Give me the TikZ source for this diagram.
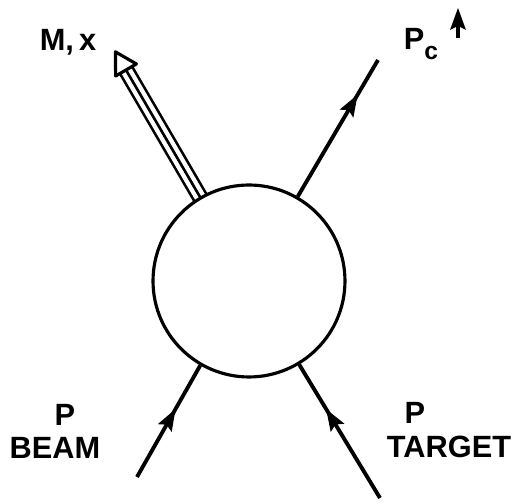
\documentclass[tikz,border=0pt]{standalone}
\usepackage{fontspec}
\newfontfamily\letterfont{Liberation Sans}
\usetikzlibrary{decorations.markings,calc,backgrounds}
\tikzset{
  blob/.style={circle, draw, fill=white, line width=1.8pt, minimum size=3.84cm, inner sep=0pt},
  headmark/.style={postaction={decorate}, decoration={markings,
    mark=at position #1 with {\fill (9,0) -- (-13,8) -- (-9,0) -- (-13,-8) -- cycle;}}},
  fermion/.style={line width=2.2pt, headmark=#1},
  fermion/.default=0.6,
  tripleline/.style={line width=1.5pt, double=white, double distance=6.4pt},
  lettering/.style={font=\letterfont\bfseries\fontsize{17.5}{21}\selectfont, inner sep=0pt},
}

\begin{document}
\begin{tikzpicture}[x=0.02cm, y=-0.02cm]
  \useasboundingbox (0,0) rectangle (515,502);
  \node[blob] (blob) at (249,281) {};
  \coordinate (beam) at (137,477); \coordinate (target) at (380,498);
  \coordinate (pc) at (378,60); \coordinate (mbase) at (126,70);
  % Incoming and outgoing protons
  \draw[fermion=0.54] (beam) -- (blob.240);
  \draw[fermion=0.61] (target) -- (blob.301);
  \draw[fermion=0.69] (blob.60) -- (pc);
  % Missing mass line
  \begin{pgfonlayer}{background}
    \draw[tripleline] (blob.center) -- (mbase);
    \draw[line width=1.5pt] (blob.center) -- (mbase);
  \end{pgfonlayer}
  \draw[line width=1.8pt, line join=round, fill=white] ($(mbase)!-0.42cm!(blob.center)$)
    -- ($(mbase)!0.24cm!90:(blob.center)$) -- ($(mbase)!0.24cm!-90:(blob.center)$) -- cycle;
  % Labels
  \node[lettering] (mx) at (68,42) {M,\,x};
  \node[lettering] (pclabel) at (421,44) {P\raisebox{-0.35em}{\fontsize{14}{14}\selectfont c}};
  \coordinate (spin0) at (458,38); \coordinate (spin1) at (458,17);
  \draw[line width=2.4pt, headmark=1] (spin0) -- (spin1);
  \node[lettering] (pbeam) at (65,415) {P};
  \node[lettering] (beamlabel) at (55,448) {BEAM};
  \node[lettering] (ptarget) at (415,413) {P};
  \node[lettering] (targetlabel) at (449,447) {TARGET};
\end{tikzpicture}
\end{document}
